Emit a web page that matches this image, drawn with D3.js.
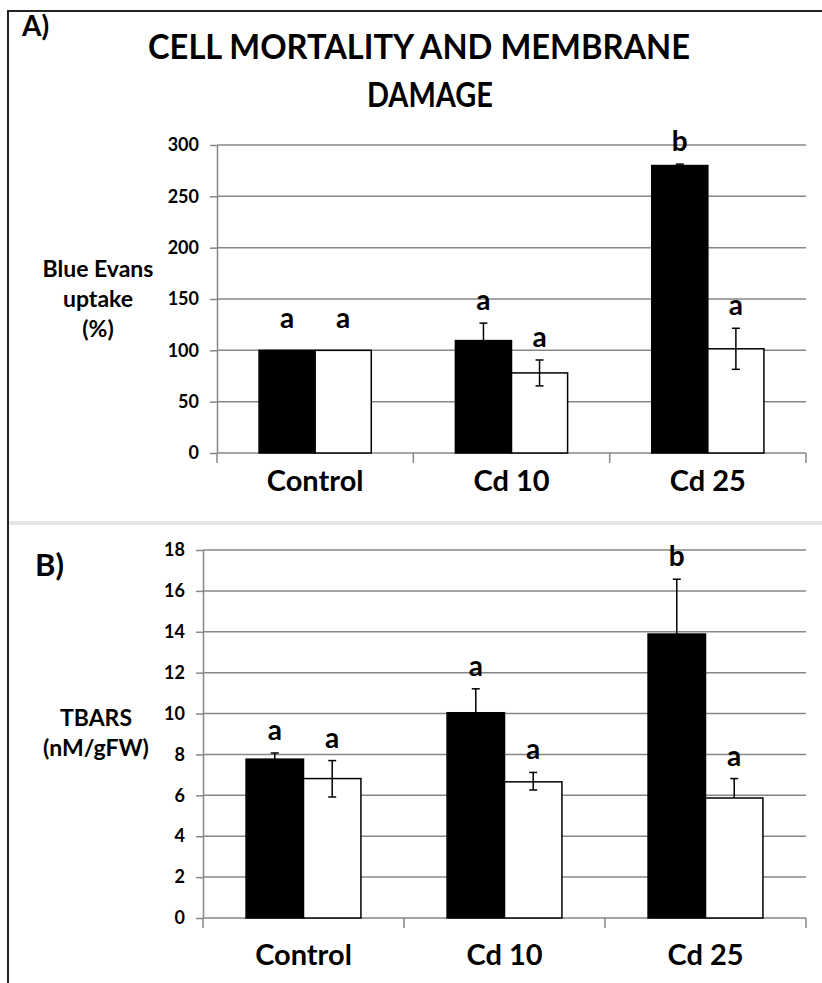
<!DOCTYPE html>
<html>
<head>
<meta charset="utf-8">
<script src="https://cdn.jsdelivr.net/npm/d3@7"></script>
<style>
  body { margin: 0; background: #fff; }
  text { font-family: Lato, "Open Sans", sans-serif; font-weight: bold; fill: #000; }
</style>
</head>
<body>
<svg id="chart"></svg>
<script>
(function() {
    // data
    var groups = ["Control", "Cd 10", "Cd 25"];

    // A) Blue Evans uptake (%)
    var mortBlack = [100, 109.5, 280];
    var mortWhite = [100, 78, 101.5];
    var mortErrBlack = [0, 17, 1.4];
    var mortErrWhite = [0, 12.6, 20];
    var mortErrWhiteLow = [0, 12.6, 20];
    var mortLettersBlack = ["a", "a", "b"];
    var mortLettersWhite = ["a", "a", "a"];
    var mortTicks = [0, 50, 100, 150, 200, 250, 300];

    // B) TBARS (nM/gFW)
    var tbarsBlack = [7.77, 10.04, 13.89];
    var tbarsWhite = [6.82, 6.66, 5.87];
    var tbarsErrBlack = [0.3, 1.17, 2.68];
    var tbarsErrWhite = [0.88, 0.46, 0.95];
    var tbarsErrWhiteLow = [0.9, 0.4, 0];
    var tbarsLettersBlack = ["a", "a", "b"];
    var tbarsLettersWhite = ["a", "a", "a"];
    var tbarsTicks = [0, 2, 4, 6, 8, 10, 12, 14, 16, 18];

    var width = 822, height = 983;
    var gridColor = "#878787";

    var svg = d3.select("#chart")
        .attr("width", width)
        .attr("height", height);

    svg.append("rect").attr("width", width).attr("height", height).attr("fill", "#fff");

    // frame of the figure
    svg.append("path")
        .attr("d", "M8,983V11H822")
        .attr("fill", "none")
        .attr("stroke", "#222")
        .attr("stroke-width", 2);

    // light separator between the two panels
    svg.append("line")
        .attr("x1", 9).attr("x2", 822)
        .attr("y1", 523).attr("y2", 523)
        .attr("stroke", "#e6e6e6")
        .attr("stroke-width", 4);

    function drawPanel(o) {
        var g = svg.append("g");

        var x = d3.scaleBand()
            .domain(groups)
            .range([o.left, o.right]);

        // two bars per group, gap width 150%
        var xs = d3.scaleBand()
            .domain(["black", "white"])
            .range([0, x.bandwidth()])
            .paddingOuter(0.75);

        var y = d3.scaleLinear()
            .domain([0, o.ticks[o.ticks.length - 1]])
            .range([o.bottom, o.top]);

        var rows = [];
        groups.forEach(function(c, i) {
            // lower whisker of a black bar is hidden inside the bar
            rows.push({cat: c, s: "black", v: o.black[i], up: o.errBlack[i], lo: 0, letter: o.lettersBlack[i]});
            rows.push({cat: c, s: "white", v: o.white[i], up: o.errWhite[i], lo: o.errWhiteLow[i], letter: o.lettersWhite[i]});
        });

        // gridlines
        g.append("g")
            .selectAll("line")
            .data(o.ticks.filter(function(t) { return t > 0; }))
            .enter()
            .append("line")
            .attr("x1", o.left).attr("x2", o.right)
            .attr("y1", function(d) { return y(d); })
            .attr("y2", function(d) { return y(d); })
            .attr("stroke", gridColor)
            .attr("stroke-width", 1.5);

        // y axis
        var yAxis = g.append("g")
            .attr("transform", "translate(" + o.left + ",0)")
            .call(d3.axisLeft(y).tickValues(o.ticks).tickSizeInner(7).tickSizeOuter(0).tickPadding(11));
        yAxis.selectAll("path, line").attr("stroke", gridColor).attr("stroke-width", 1.5);
        yAxis.selectAll("text")
            .style("font-family", "Lato, sans-serif")
            .style("font-weight", "bold")
            .style("font-size", o.tickFont + "px")
            .attr("fill", "#111");

        // x axis line and group boundary ticks
        g.append("line")
            .attr("x1", o.left).attr("x2", o.right)
            .attr("y1", y(0)).attr("y2", y(0))
            .attr("stroke", gridColor)
            .attr("stroke-width", 1.5);
        var bounds = [o.left].concat(groups.map(function(c) { return x(c) + x.bandwidth(); }));
        g.append("g")
            .selectAll("line")
            .data(bounds)
            .enter()
            .append("line")
            .attr("x1", function(d) { return d; })
            .attr("x2", function(d) { return d; })
            .attr("y1", y(0))
            .attr("y2", y(0) + 10)
            .attr("stroke", gridColor)
            .attr("stroke-width", 1.5);

        // bars
        g.append("g")
            .selectAll("rect")
            .data(rows)
            .enter()
            .append("rect")
            .attr("x", function(d) { return x(d.cat) + xs(d.s); })
            .attr("width", xs.bandwidth())
            .attr("y", function(d) { return y(d.v); })
            .attr("height", function(d) { return y(0) - y(d.v); })
            .attr("fill", function(d) { return d.s == "black" ? "#000" : "#fff"; })
            .attr("stroke", "#000")
            .attr("stroke-width", 1.5);

        // error bars
        var eb = g.append("g")
            .selectAll("g")
            .data(rows.filter(function(d) { return d.up > 0; }))
            .enter()
            .append("g")
            .attr("transform", function(d) { return "translate(" + (x(d.cat) + xs(d.s) + xs.bandwidth() / 2) + ",0)"; })
            .attr("stroke", "#000")
            .attr("stroke-width", 1.5);
        eb.append("line")
            .attr("y1", function(d) { return y(d.v + d.up); })
            .attr("y2", function(d) { return y(d.v - d.lo); });
        eb.append("line")
            .attr("x1", -4).attr("x2", 4)
            .attr("y1", function(d) { return y(d.v + d.up); })
            .attr("y2", function(d) { return y(d.v + d.up); });
        eb.filter(function(d) { return d.lo > 0; })
            .append("line")
            .attr("x1", -4).attr("x2", 4)
            .attr("y1", function(d) { return y(d.v - d.lo); })
            .attr("y2", function(d) { return y(d.v - d.lo); });

        // significance letters
        g.append("g")
            .selectAll("text")
            .data(rows)
            .enter()
            .append("text")
            .attr("x", function(d) { return x(d.cat) + xs(d.s) + xs.bandwidth() / 2; })
            .attr("y", function(d) { return d.up > 0 ? y(d.v + d.up) - 13 : y(d.v) - 22; })
            .attr("text-anchor", "middle")
            .style("font-size", "28px")
            .text(function(d) { return d.letter; });

        // category labels
        g.append("g")
            .selectAll("text")
            .data(groups)
            .enter()
            .append("text")
            .attr("x", function(d) { return x(d) + x.bandwidth() / 2; })
            .attr("y", y(0) + o.catOffset)
            .attr("text-anchor", "middle")
            .style("font-size", "29px")
            .text(function(d) { return d; });

        // y title
        g.append("g")
            .selectAll("text")
            .data(o.yTitle)
            .enter()
            .append("text")
            .attr("x", o.yTitleX)
            .attr("y", function(d, i) { return o.yTitleY + i * 30; })
            .attr("text-anchor", "middle")
            .style("font-size", "23px")
            .text(function(d) { return d; });
    }

    drawPanel({
        left: 217, right: 806, top: 145, bottom: 453,
        ticks: mortTicks, tickFont: 18,
        black: mortBlack, white: mortWhite,
        errBlack: mortErrBlack, errWhite: mortErrWhite, errWhiteLow: mortErrWhiteLow,
        lettersBlack: mortLettersBlack, lettersWhite: mortLettersWhite,
        catOffset: 38,
        yTitle: ["Blue Evans", "uptake", "(%)"], yTitleX: 98, yTitleY: 277
    });

    drawPanel({
        left: 203, right: 806, top: 550, bottom: 918,
        ticks: tbarsTicks, tickFont: 18,
        black: tbarsBlack, white: tbarsWhite,
        errBlack: tbarsErrBlack, errWhite: tbarsErrWhite, errWhiteLow: tbarsErrWhiteLow,
        lettersBlack: tbarsLettersBlack, lettersWhite: tbarsLettersWhite,
        catOffset: 47,
        yTitle: ["TBARS", "(nM/gFW)"], yTitleX: 96, yTitleY: 726
    });

    // panel tags and title
    svg.append("text").attr("x", 22).attr("y", 36).style("font-size", "28px").text("A)");
    svg.append("text").attr("x", 35).attr("y", 576).style("font-size", "31px").text("B)");

    svg.append("text")
        .attr("x", 419).attr("y", 59)
        .attr("text-anchor", "middle")
        .attr("textLength", 542)
        .attr("lengthAdjust", "spacingAndGlyphs")
        .style("font-size", "34px")
        .text("CELL MORTALITY AND MEMBRANE");
    svg.append("text")
        .attr("x", 430).attr("y", 107)
        .attr("text-anchor", "middle")
        .attr("textLength", 126)
        .attr("lengthAdjust", "spacingAndGlyphs")
        .style("font-size", "34px")
        .text("DAMAGE");
})();
</script>
</body>
</html>
